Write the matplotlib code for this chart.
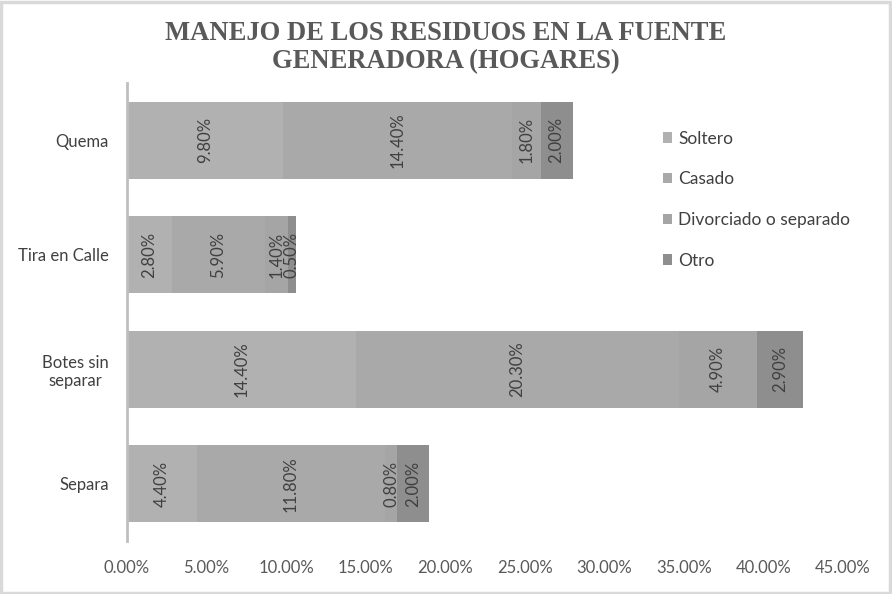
import matplotlib
matplotlib.use("Agg")
import matplotlib.pyplot as plt
from matplotlib.patches import Rectangle
from matplotlib.ticker import FuncFormatter

categories = ["Quema", "Tira en Calle", "Botes sin\nseparar", "Separa"]
series_names = ["Soltero", "Casado", "Divorciado o separado", "Otro"]
soltero = [9.8, 2.8, 14.4, 4.4]
casado = [14.4, 5.9, 20.3, 11.8]
divorciado = [1.8, 1.4, 4.9, 0.8]
otro = [2.0, 0.5, 2.9, 2.0]
xticks = [0, 5, 10, 15, 20, 25, 30, 35, 40, 45]

series = [soltero, casado, divorciado, otro]
colors = ["#b1b1b1", "#a9a9a9", "#a5a5a5", "#8e8e8e"]

font = "Lato"
fig = plt.figure(figsize=(8.92, 5.94), dpi=100)
ax = fig.add_axes([127/892, 1-541/594, (843-127)/892, (541-83)/594])

ypos = list(range(len(categories)))
left = [0.0]*len(categories)
handles = []
for vals, name, col in zip(series, series_names, colors):
    bars = ax.barh(ypos, vals, left=left, height=0.67, color=col, label=name)
    handles.append(bars)
    for y, v, l in zip(ypos, vals, left):
        ax.text(l + v/2, y, f"{v:.2f}%", rotation=90, ha="center", va="center",
                fontsize=12, color="#404040", family=font)
    left = [a + b for a, b in zip(left, vals)]

ax.set_xlim(0, 45)
ax.set_ylim(len(categories)-0.5, -0.5)
ax.set_yticks(ypos)
ax.set_yticklabels(categories, family=font, fontsize=12, color="#404040",
                   ha="right", multialignment="center")
ax.tick_params(axis="y", length=0, pad=13)
ax.set_xticks(xticks)
ax.xaxis.set_major_formatter(FuncFormatter(lambda v, p: f"{v:.2f}%"))
for t in ax.get_xticklabels():
    t.set_family(font)
    t.set_fontsize(12)
    t.set_color("#595959")
ax.tick_params(axis="x", length=0, pad=14)
for s in ["top", "right", "bottom"]:
    ax.spines[s].set_visible(False)
ax.spines["left"].set_color("#bfbfbf")
ax.spines["left"].set_linewidth(2)

leg = fig.legend(handles=handles, labels=series_names, loc="upper left",
                 bbox_to_anchor=(647/892, 1-115/594), frameon=False,
                 prop={"family": font, "size": 12.5}, labelspacing=1.42,
                 handlelength=0.55, handleheight=0.55, handletextpad=0.35)
for t in leg.get_texts():
    t.set_color("#404040")

fig.text(446/892, 1-47.5/594, "MANEJO DE LOS RESIDUOS EN LA FUENTE\nGENERADORA (HOGARES)",
         ha="center", va="center", family="Liberation Serif", fontweight="bold",
         fontsize=19.2, color="#595959", linespacing=1.18)

fig.patches.append(Rectangle((0.001, 0.002), 0.997, 0.995, transform=fig.transFigure,
                             fill=False, edgecolor="#d9d9d9", linewidth=2.5))

fig.savefig("out.png", dpi=100)
